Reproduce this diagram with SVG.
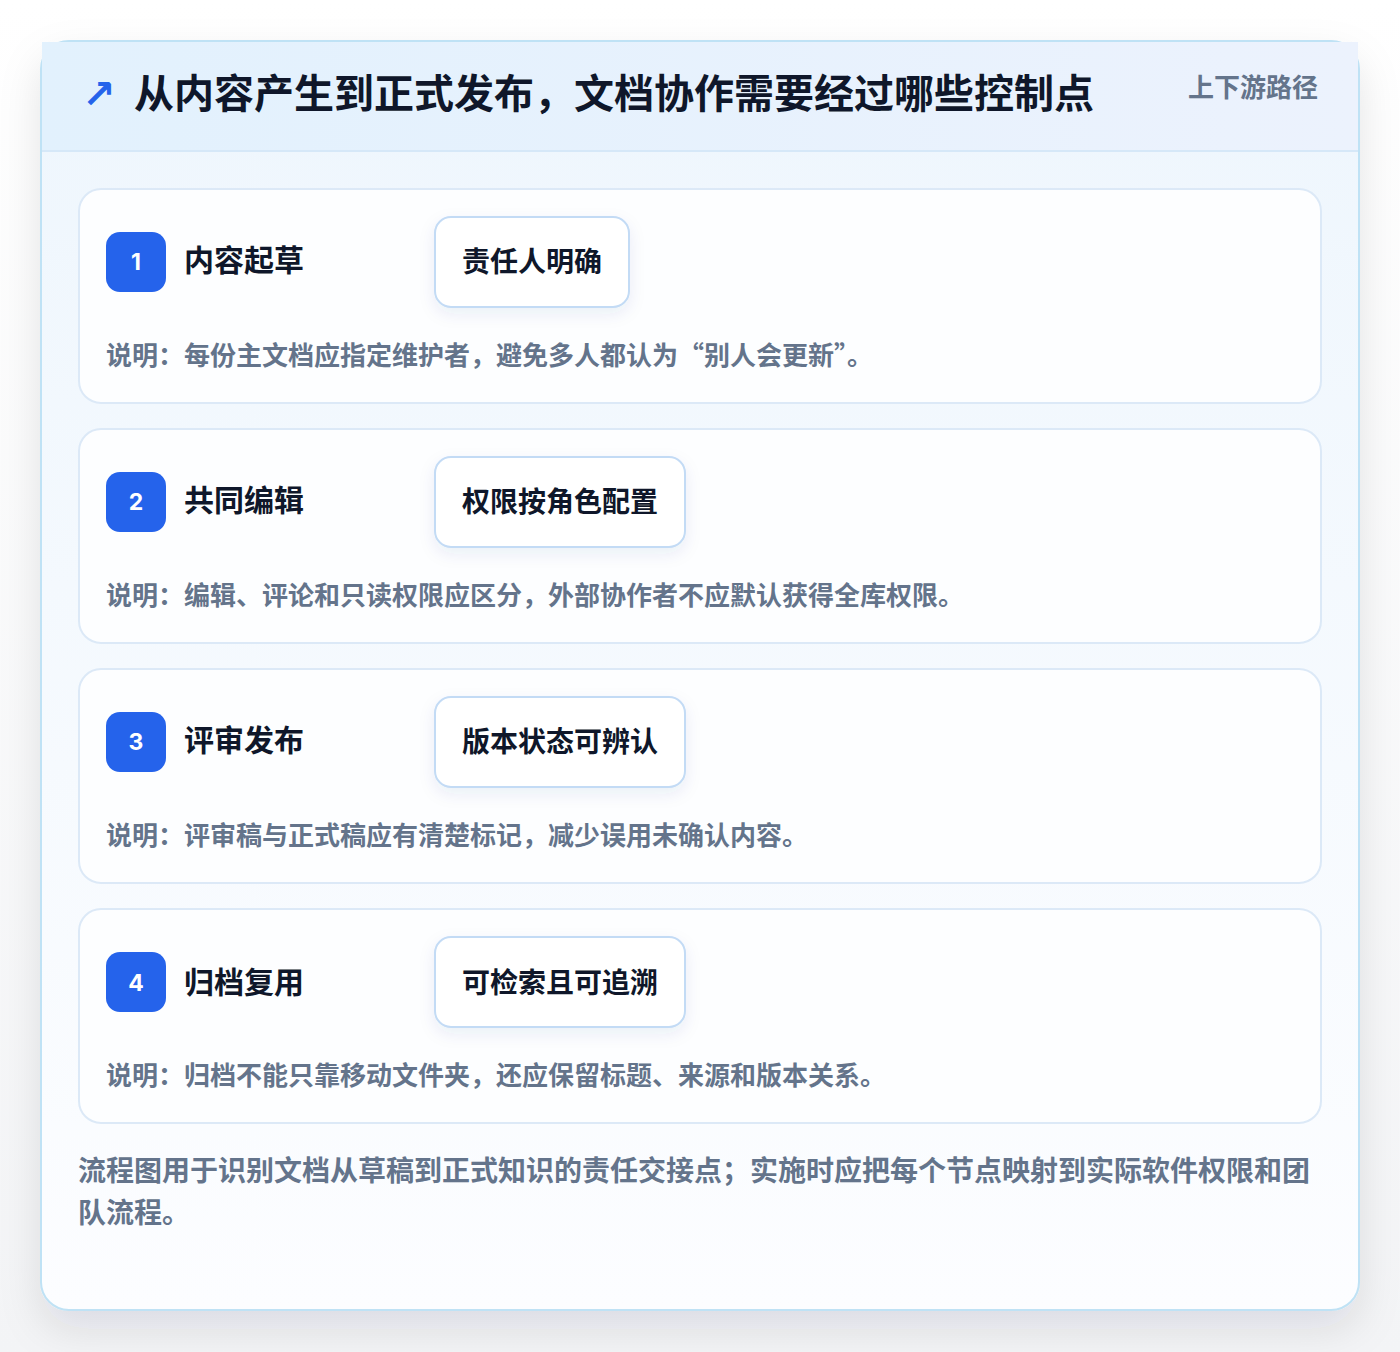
<svg xmlns="http://www.w3.org/2000/svg" width="1400" height="1352" viewBox="0 0 1400 1352">
<defs>
<linearGradient id="pageBg" x1="0" y1="0" x2="0" y2="1">
<stop offset="0" stop-color="#ffffff"/>
<stop offset="1" stop-color="#f3f4f6"/>
</linearGradient>
<linearGradient id="bodyBg" x1="0" y1="0" x2="0" y2="1">
<stop offset="0" stop-color="#eef6fd"/>
<stop offset="1" stop-color="#fcfdff"/>
</linearGradient>
<linearGradient id="headBg" x1="0" y1="0" x2="1" y2="0">
<stop offset="0" stop-color="#e2f1fd"/>
<stop offset="1" stop-color="#ecf2fd"/>
</linearGradient>
<filter id="outerShadow" x="-10%" y="-10%" width="120%" height="125%">
<feDropShadow dx="0" dy="18" stdDeviation="20" flood-color="#0f172a" flood-opacity="0.10"/>
</filter>
<filter id="tagShadow" x="-20%" y="-30%" width="140%" height="170%">
<feDropShadow dx="0" dy="6" stdDeviation="8" flood-color="#1e3a8a" flood-opacity="0.08"/>
</filter>
<style>
.cjk{font-family:"Noto Sans CJK SC","Noto Sans",sans-serif;}
.title{font-size:40px;font-weight:700;fill:#0f172a;}
.sub{font-size:26px;font-weight:600;fill:#64748b;}
.card{fill:#fdfeff;stroke:#dce9f7;stroke-width:2;}
.badge{fill:#2563eb;}
.num{font-family:"Inter","Liberation Sans",sans-serif;font-size:23px;font-weight:700;fill:#ffffff;}
.ctitle{font-size:30px;font-weight:700;fill:#0f172a;}
.tag{fill:#ffffff;stroke:#c3dbf5;stroke-width:2;}
.tagtxt{font-size:28px;font-weight:700;fill:#0f172a;}
.desc{font-size:26px;font-weight:600;fill:#64748b;}
.foot{font-size:28px;font-weight:600;fill:#64748b;}
</style>
</defs>
<rect x="0" y="0" width="1400" height="1352" fill="url(#pageBg)"/>
<g id="frame">
<rect x="41" y="41" width="1318" height="1269" rx="28" fill="url(#bodyBg)" stroke="#bfe2f5" stroke-width="2" filter="url(#outerShadow)"/>
<rect x="42" y="42" width="1316" height="109" fill="url(#headBg)"/>
<line x1="42" y1="151" x2="1358" y2="151" stroke="#d6e8f8" stroke-width="2"/>
<text x="82" y="108" font-family="DejaVu Sans,sans-serif" font-size="40" font-weight="700" fill="#2563eb">↗</text>
<text class="cjk title" x="134" y="108">从内容产生到正式发布，文档协作需要经过哪些控制点</text>
<text class="cjk sub" x="1318" y="97" text-anchor="end">上下游路径</text>
</g>
<g id="connectors"></g>
<g id="node1">
<rect class="card" x="79" y="189" width="1242" height="214" rx="22"/>
<rect class="badge" x="106" y="232" width="60" height="60" rx="14"/>
<text class="num" x="136" y="270" text-anchor="middle">1</text>
<text class="cjk ctitle" x="184" y="271">内容起草</text>
<rect class="tag" x="435" y="217" width="194" height="90" rx="16" filter="url(#tagShadow)"/>
<text class="cjk tagtxt" x="532" y="272" text-anchor="middle">责任人明确</text>
<text class="cjk desc" x="106" y="365">说明：每份主文档应指定维护者，避免多人都认为“别人会更新”。</text>
</g>
<g id="node2">
<rect class="card" x="79" y="429" width="1242" height="214" rx="22"/>
<rect class="badge" x="106" y="472" width="60" height="60" rx="14"/>
<text class="num" x="136" y="510" text-anchor="middle">2</text>
<text class="cjk ctitle" x="184" y="511">共同编辑</text>
<rect class="tag" x="435" y="457" width="250" height="90" rx="16" filter="url(#tagShadow)"/>
<text class="cjk tagtxt" x="560" y="512" text-anchor="middle">权限按角色配置</text>
<text class="cjk desc" x="106" y="605">说明：编辑、评论和只读权限应区分，外部协作者不应默认获得全库权限。</text>
</g>
<g id="node3">
<rect class="card" x="79" y="669" width="1242" height="214" rx="22"/>
<rect class="badge" x="106" y="712" width="60" height="60" rx="14"/>
<text class="num" x="136" y="750" text-anchor="middle">3</text>
<text class="cjk ctitle" x="184" y="751">评审发布</text>
<rect class="tag" x="435" y="697" width="250" height="90" rx="16" filter="url(#tagShadow)"/>
<text class="cjk tagtxt" x="560" y="752" text-anchor="middle">版本状态可辨认</text>
<text class="cjk desc" x="106" y="845">说明：评审稿与正式稿应有清楚标记，减少误用未确认内容。</text>
</g>
<g id="node4">
<rect class="card" x="79" y="909" width="1242" height="214" rx="22"/>
<rect class="badge" x="106" y="952" width="60" height="60" rx="14"/>
<text class="num" x="136" y="991" text-anchor="middle">4</text>
<text class="cjk ctitle" x="184" y="993">归档复用</text>
<rect class="tag" x="435" y="937" width="250" height="90" rx="16" filter="url(#tagShadow)"/>
<text class="cjk tagtxt" x="560" y="993" text-anchor="middle">可检索且可追溯</text>
<text class="cjk desc" x="106" y="1085">说明：归档不能只靠移动文件夹，还应保留标题、来源和版本关系。</text>
</g>
<g id="footer">
<text class="cjk foot" x="78" y="1181">流程图用于识别文档从草稿到正式知识的责任交接点；实施时应把每个节点映射到实际软件权限和团</text>
<text class="cjk foot" x="78" y="1223">队流程。</text>
</g>
</svg>
